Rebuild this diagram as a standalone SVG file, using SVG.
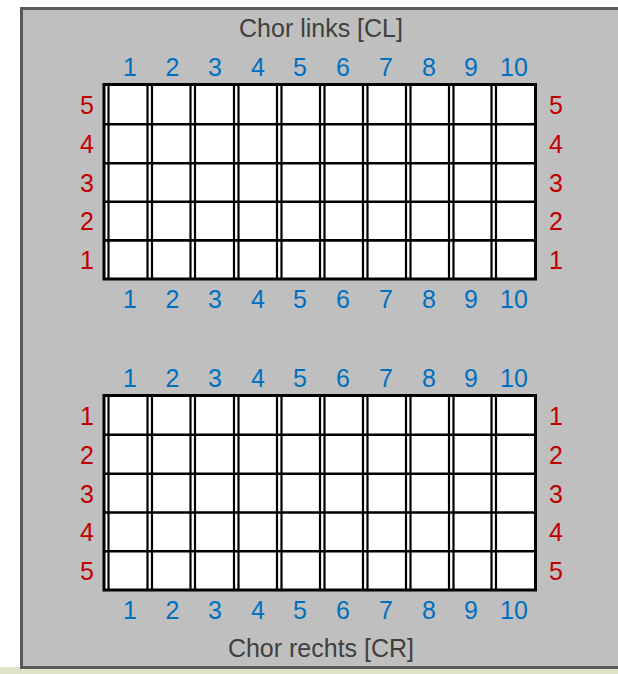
<svg xmlns="http://www.w3.org/2000/svg" width="618" height="674" viewBox="0 0 618 674">
<style>
text{font-family:"Liberation Sans",Arial,sans-serif;font-size:25px;text-anchor:middle}
.t{fill:#404040}
.b{fill:#0070c0}
.r{fill:#c00000}
.o{fill:#fff;stroke:#000;stroke-width:3}
.v{stroke:#000;stroke-width:2.2;fill:none}
.h{stroke:#000;stroke-width:2.6;fill:none}
</style>
<rect x="0" y="0" width="618" height="674" fill="#fff"/>
<rect x="0" y="667" width="618" height="7" fill="#e1e3c9"/>
<g id="frame">
<rect x="21.5" y="8.5" width="620" height="659" fill="#bfbfbf" stroke="#595959" stroke-width="3"/>
<text class="t" x="321" y="37">Chor links [CL]</text>
<text class="t" x="321" y="657">Chor rechts [CR]</text>
</g>
<g id="grid-cl">
<rect class="o" x="104" y="84.5" width="431.5" height="194.5"/>
<path class="v" d="M108.5 84.5V279M147.5 84.5V279M152 84.5V279M190.5 84.5V279M195 84.5V279M234 84.5V279M238.5 84.5V279M277 84.5V279M281.5 84.5V279M320 84.5V279M324.5 84.5V279M363 84.5V279M367.5 84.5V279M406 84.5V279M410.5 84.5V279M449 84.5V279M453.5 84.5V279M491.5 84.5V279M496 84.5V279"/>
<path class="h" d="M104 124.3H535.5M104 163.3H535.5M104 201.8H535.5M104 240.4H535.5"/>
<g class="b">
<text x="130" y="76">1</text><text x="172.5" y="76">2</text><text x="215" y="76">3</text><text x="258" y="76">4</text><text x="300" y="76">5</text><text x="343" y="76">6</text><text x="386" y="76">7</text><text x="429" y="76">8</text><text x="471" y="76">9</text><text x="514" y="76">10</text>
<text x="130" y="308">1</text><text x="172.5" y="308">2</text><text x="215" y="308">3</text><text x="258" y="308">4</text><text x="300" y="308">5</text><text x="343" y="308">6</text><text x="386" y="308">7</text><text x="429" y="308">8</text><text x="471" y="308">9</text><text x="514" y="308">10</text>
</g>
<g class="r">
<text x="87" y="114">5</text><text x="87" y="153">4</text><text x="87" y="192">3</text><text x="87" y="230">2</text><text x="87" y="269">1</text>
<text x="556" y="114">5</text><text x="556" y="153">4</text><text x="556" y="192">3</text><text x="556" y="230">2</text><text x="556" y="269">1</text>
</g>
</g>
<g id="grid-cr">
<rect class="o" x="104" y="395.5" width="431.5" height="194.5"/>
<path class="v" d="M108.5 395.5V590M147.5 395.5V590M152 395.5V590M190.5 395.5V590M195 395.5V590M234 395.5V590M238.5 395.5V590M277 395.5V590M281.5 395.5V590M320 395.5V590M324.5 395.5V590M363 395.5V590M367.5 395.5V590M406 395.5V590M410.5 395.5V590M449 395.5V590M453.5 395.5V590M491.5 395.5V590M496 395.5V590"/>
<path class="h" d="M104 434.8H535.5M104 473.8H535.5M104 512.5H535.5M104 551.3H535.5"/>
<g class="b">
<text x="130" y="387">1</text><text x="172.5" y="387">2</text><text x="215" y="387">3</text><text x="258" y="387">4</text><text x="300" y="387">5</text><text x="343" y="387">6</text><text x="386" y="387">7</text><text x="429" y="387">8</text><text x="471" y="387">9</text><text x="514" y="387">10</text>
<text x="130" y="619">1</text><text x="172.5" y="619">2</text><text x="215" y="619">3</text><text x="258" y="619">4</text><text x="300" y="619">5</text><text x="343" y="619">6</text><text x="386" y="619">7</text><text x="429" y="619">8</text><text x="471" y="619">9</text><text x="514" y="619">10</text>
</g>
<g class="r">
<text x="87" y="425">1</text><text x="87" y="464">2</text><text x="87" y="503">3</text><text x="87" y="541">4</text><text x="87" y="580">5</text>
<text x="556" y="425">1</text><text x="556" y="464">2</text><text x="556" y="503">3</text><text x="556" y="541">4</text><text x="556" y="580">5</text>
</g>
</g>
</svg>
